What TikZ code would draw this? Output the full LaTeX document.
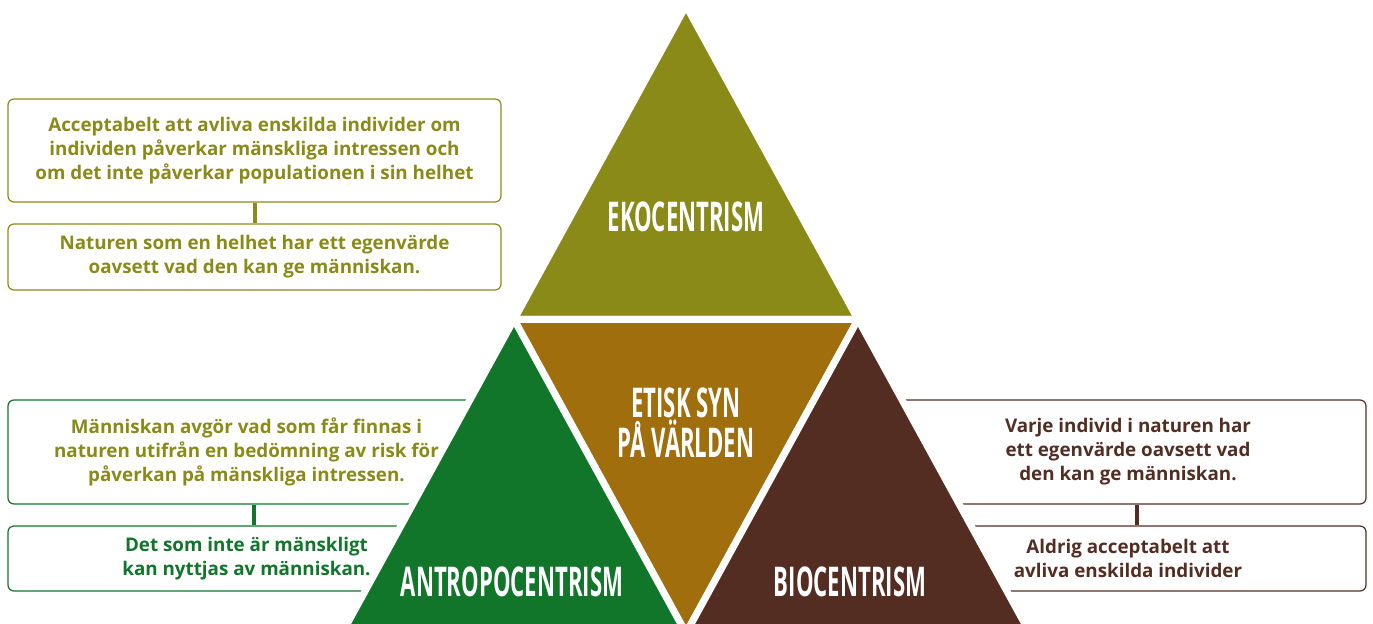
\documentclass[tikz,border=0pt]{standalone}
\usepackage{fontspec}
\setmainfont{Open Sans}
\usepackage{graphicx}
\definecolor{oliv}{RGB}{138,138,24}
\definecolor{amber}{RGB}{160,110,12}
\definecolor{skog}{RGB}{17,117,42}
\definecolor{jord}{RGB}{84,45,34}
\newcommand{\rubrik}[1]{\scalebox{0.54}[1]{#1}}

\begin{document}
\begin{tikzpicture}[x=0.5pt, y=-0.5pt,
        box/.style={draw, rounded corners=3pt, line width=0.6pt, inner sep=0pt, align=center,
            font=\bfseries\fontsize{9.4}{12}\selectfont},
        tri/.style={draw=white, line width=3.5pt, line join=round},
        title/.style={text=white, inner sep=0pt, align=center, font=\bfseries\fontsize{20.5}{17}\selectfont},
        link/.style={line width=2pt}
    ]
    \useasboundingbox (0,0) rectangle (1373,624);

    \node [box, draw=oliv, text=oliv, minimum width=246.5pt, minimum height=51.5pt] (acc) at (254.5,150.5)
        {Acceptabelt att avliva enskilda individer om\\individen påverkar mänskliga intressen och\\om det inte påverkar populationen i sin helhet};
    \node [box, draw=oliv, text=oliv, minimum width=246.5pt, minimum height=33pt] (nat) at (254.5,257)
        {Naturen som en helhet har ett egenvärde\\oavsett vad den kan ge människan.};
    \node [box, draw=skog, text=oliv, minimum width=238.5pt, minimum height=52pt] (man) at (246.5,452)
        {Människan avgör vad som får finnas i\\naturen utifrån en bedömning av risk för\\påverkan på mänskliga intressen.};
    \node [box, draw=skog, text=skog, minimum width=238.5pt, minimum height=32.5pt] (nyt) at (246.5,558.5)
        {Det som inte är mänskligt\\kan nyttjas av människan.};
    \node [box, draw=jord, text=jord, minimum width=238pt, minimum height=52pt] (var) at (1128,452)
        {Varje individ i naturen har\\ett egenvärde oavsett vad\\den kan ge människan.};
    \node [box, draw=jord, text=jord, minimum width=238pt, minimum height=32.5pt] (ald) at (1128,558.5)
        {Aldrig acceptabelt att\\avliva enskilda individer};

    \draw [link, oliv] (acc) -- (nat);
    \draw [link, skog] ([xshift=3.75pt]man.south) -- ([xshift=3.75pt]nyt.north);
    \draw [link, jord] ([xshift=4.5pt]var.south) -- ([xshift=4.5pt]ald.north);

    \begin{scope}
        \clip (0,0) rectangle (1373,624);
        \coordinate (top) at (686,5.7);
        \coordinate (vl) at (514,319.5);
        \coordinate (vr) at (858,319.5);
        \coordinate (bl) at (342,633.3);
        \coordinate (bm) at (686,633.3);
        \coordinate (br) at (1030,633.3);
        \filldraw [tri, fill=oliv] (top) -- (vl) -- (vr) -- cycle;
        \filldraw [tri, fill=amber] (vl) -- (vr) -- (bm) -- cycle;
        \filldraw [tri, fill=skog] (vl) -- (bm) -- (bl) -- cycle;
        \filldraw [tri, fill=jord] (vr) -- (br) -- (bm) -- cycle;
    \end{scope}

    \node [title] (eko) at (686,217) {\rubrik{EKOCENTRISM}};
    \node [title] (etik) at (686,423) {\rubrik{ETISK SYN}\\\rubrik{PÅ VÄRLDEN}};
    \node [title] (antro) at (512,582) {\rubrik{ANTROPOCENTRISM}};
    \node [title] (bio) at (850,582) {\rubrik{BIOCENTRISM}};

\end{tikzpicture}
\end{document}
